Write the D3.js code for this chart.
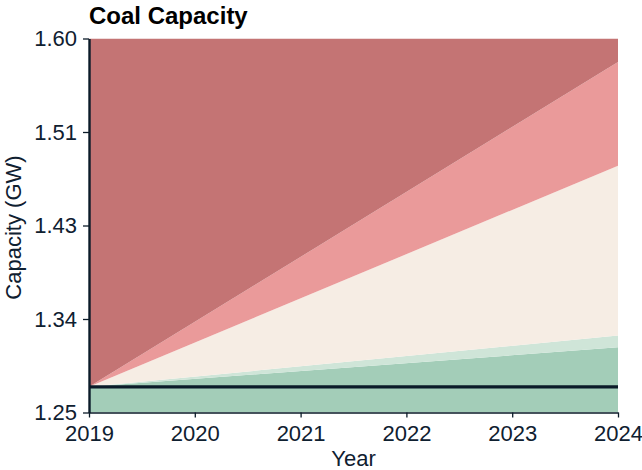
<!DOCTYPE html>
<html>
<head>
<meta charset="utf-8">
<script src="https://cdn.jsdelivr.net/npm/d3@7"></script>
<style>
  html, body { margin: 0; padding: 0; background: #ffffff; }
  svg { display: block; font-family: "Liberation Sans", Arial, sans-serif; }
</style>
</head>
<body>
<svg id="chart" width="642" height="470"></svg>
<script>
// ---- Data ----
const years = [2019, 2024];
const xTickYears = [2019, 2020, 2021, 2022, 2023, 2024];
const yTickValues = [1.25, 1.3375, 1.425, 1.5125, 1.60];
const yTickLabels = ["1.25", "1.34", "1.43", "1.51", "1.60"];
const baseline = 1.274;            // horizontal reference line
// band upper edges at each year (stacked fan), bottom of chart = 1.25
const greenTop      = [1.274, 1.311];
const lightGreenTop = [1.274, 1.322];
const creamTop      = [1.274, 1.481];
const pinkTop       = [1.274, 1.578];
const redTop        = [1.60, 1.60];
const bandColors = ["#a3cdb8", "#cfe5d8", "#f6ede4", "#ea9a9a", "#c47474"];

const width = 642, height = 470;
const margin = { top: 38.5, right: 24, bottom: 57.5, left: 89 };
const svg = d3.select("#chart");
const x = d3.scaleLinear().domain([2019, 2024]).range([margin.left, width - margin.right]);
const y = d3.scaleLinear().domain([1.25, 1.60]).range([height - margin.bottom, margin.top]);

const tops = [greenTop, lightGreenTop, creamTop, pinkTop, redTop];
const bottoms = [[1.25, 1.25], greenTop, lightGreenTop, creamTop, pinkTop];

svg.append("clipPath").attr("id", "plotclip").append("rect")
  .attr("x", margin.left).attr("y", margin.top)
  .attr("width", width - margin.right - margin.left)
  .attr("height", height - margin.bottom - margin.top);

const area = d3.area()
  .x(d => x(d.year))
  .y0(d => y(d.lo))
  .y1(d => y(d.hi));

const g = svg.append("g").attr("clip-path", "url(#plotclip)");
tops.forEach((t, i) => {
  const pts = years.map((yr, j) => ({ year: yr, lo: bottoms[i][j], hi: t[j] }));
  g.append("path").datum(pts).attr("d", area).attr("fill", bandColors[i]);
});

g.append("line")
  .attr("x1", x(2019)).attr("x2", x(2024))
  .attr("y1", y(baseline)).attr("y2", y(baseline))
  .attr("stroke", "#0b1b29").attr("stroke-width", 3.2);

const axisColor = "#0b1b29";
const textColor = "#0f2030";

// X axis
const xAxis = svg.append("g")
  .attr("transform", `translate(0,${height - margin.bottom})`)
  .call(d3.axisBottom(x).tickValues(xTickYears).tickFormat(d3.format("d")).tickSize(5).tickSizeOuter(0));
xAxis.select(".domain").attr("stroke", axisColor).attr("stroke-width", 1.6);
xAxis.selectAll(".tick line").attr("stroke", axisColor).attr("stroke-width", 1.3);
xAxis.selectAll(".tick text").attr("fill", textColor).style("font-size", "22px").attr("dy", "0.71em").attr("y", 12.5);

// Y axis
const yAxis = svg.append("g")
  .attr("transform", `translate(${margin.left},0)`)
  .call(d3.axisLeft(y).tickValues(yTickValues).tickFormat((d, i) => yTickLabels[i]).tickSize(6).tickSizeOuter(0));
yAxis.select(".domain").attr("stroke", axisColor).attr("stroke-width", 2.4);
yAxis.selectAll(".tick line").attr("stroke", axisColor).attr("stroke-width", 1.3);
yAxis.selectAll(".tick text").attr("fill", textColor).style("font-size", "22px").attr("x", -12);

// Axis titles
svg.append("text")
  .attr("x", (margin.left + width - margin.right) / 2)
  .attr("y", 466)
  .attr("text-anchor", "middle")
  .attr("fill", textColor)
  .style("font-size", "22px")
  .text("Year");

svg.append("text")
  .attr("transform", `translate(21,${(margin.top + height - margin.bottom) / 2 + 2}) rotate(-90)`)
  .attr("text-anchor", "middle")
  .attr("fill", textColor)
  .style("font-size", "22px")
  .text("Capacity (GW)");

// Title
svg.append("text")
  .attr("x", margin.left)
  .attr("y", 23.5)
  .attr("fill", "#000000")
  .style("font-size", "24px")
  .style("font-weight", "bold")
  .text("Coal Capacity");
</script>
</body>
</html>
